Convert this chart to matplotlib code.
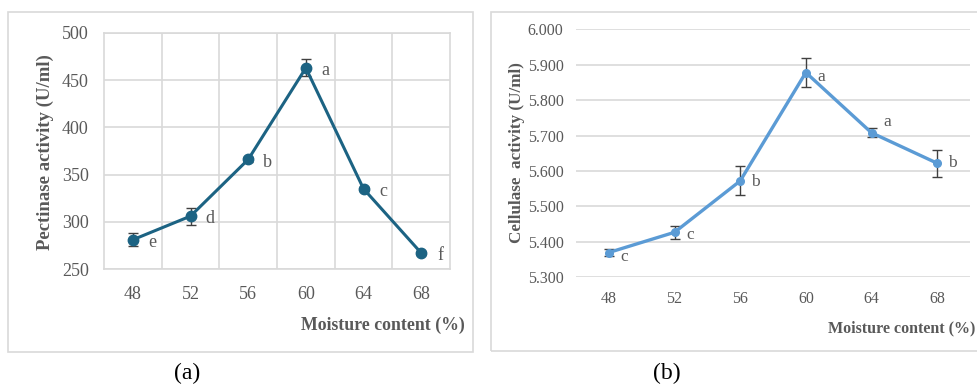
import matplotlib
matplotlib.use("Agg")
import matplotlib.pyplot as plt
from matplotlib.patches import Rectangle
from matplotlib.ticker import MultipleLocator, FixedLocator

plt.rcParams['font.family'] = ['Liberation Serif', 'DejaVu Serif']

moisture = ["48", "52", "56", "60", "64", "68"]

pectinase = [281, 306, 366, 463, 335, 267]
pectinase_err = [7, 9, 3, 9, 2, 2]
pectinase_letters = ["e", "d", "b", "a", "c", "f"]

cellulase = [5.370, 5.427, 5.572, 5.878, 5.708, 5.622]
cellulase_err = [0.010, 0.019, 0.041, 0.042, 0.013, 0.038]
cellulase_letters = ["c", "c", "b", "a", "a", "b"]

W, H = 977, 385
fig = plt.figure(figsize=(W / 100, H / 100), dpi=100)
fig.patch.set_facecolor("white")

TXT = "#595959"
GRID = "#D9D9D9"


def fx(px):
    return px / W


def fy(py):
    return (H - py) / H


# Panel borders
fig.patches.append(Rectangle((fx(8), fy(352)), fx(473) - fx(8), fy(12) - fy(352),
                             transform=fig.transFigure, fill=False, edgecolor=GRID, lw=1.2))
fig.patches.append(Rectangle((fx(491), fy(351)), fx(1000) - fx(491), fy(12) - fy(351),
                             transform=fig.transFigure, fill=False, edgecolor=GRID, lw=1.2))

x = list(range(len(moisture)))

# ---------- Panel (a) ----------
axa = fig.add_axes([fx(104), fy(269), fx(450) - fx(104), fy(33) - fy(269)])
axa.set_xlim(-0.5, 5.5)
axa.set_ylim(250, 500)
axa.yaxis.set_major_locator(MultipleLocator(50))
axa.set_xticks(x)
axa.set_xticklabels(moisture)
axa.xaxis.set_minor_locator(FixedLocator([0.5, 1.5, 2.5, 3.5, 4.5]))
axa.grid(axis="y", which="major", color=GRID, lw=1.2)
axa.grid(axis="x", which="minor", color=GRID, lw=1.2)
axa.set_axisbelow(True)
for s in axa.spines.values():
    s.set_color(GRID)
    s.set_linewidth(1.2)
axa.tick_params(axis="both", which="both", length=0, colors=TXT, labelsize=13)
axa.tick_params(axis="y", pad=11)
axa.tick_params(axis="x", pad=12)
axa.errorbar(x, pectinase, yerr=pectinase_err, color="#1C6383", lw=2.2,
             marker="o", ms=7.5, ecolor="#404040", elinewidth=1.0, capsize=3.5,
             capthick=1.0, zorder=3)
for xi, yi, lab in zip(x, pectinase, pectinase_letters):
    axa.annotate(lab, (xi, yi), xytext=(14, -2), textcoords="offset points",
                 ha="center", va="center", fontsize=13, color=TXT)

fig.text(fx(45), fy(152), "Pectinase activity (U/ml)", rotation=90, ha="center",
         va="center", fontsize=13.5, fontweight="bold", color=TXT)
fig.text(fx(465), fy(325), "Moisture content (%)", ha="right", va="center",
         fontsize=12.8, fontweight="bold", color=TXT)
fig.text(fx(187), fy(373), "(a)", ha="center", va="center", fontsize=17, color="black")

# ---------- Panel (b) ----------
axb = fig.add_axes([fx(576), fy(277.3), fx(970) - fx(576), fy(29.3) - fy(277.3)])
axb.set_xlim(-0.5, 5.5)
axb.set_ylim(5.3, 6.0)
axb.yaxis.set_major_locator(MultipleLocator(0.1))
axb.yaxis.set_major_formatter(matplotlib.ticker.FormatStrFormatter("%.3f"))
axb.set_xticks(x)
axb.set_xticklabels(moisture)
axb.grid(axis="y", which="major", color=GRID, lw=1.2)
axb.set_axisbelow(True)
for s in axb.spines.values():
    s.set_visible(False)
axb.tick_params(axis="both", which="both", length=0, colors=TXT, labelsize=11.5)
axb.tick_params(axis="y", pad=9)
axb.tick_params(axis="x", pad=10)
axb.errorbar(x, cellulase, yerr=cellulase_err, color="#5B9BD5", lw=2.4,
             marker="o", ms=5.5, ecolor="#404040", elinewidth=1.0, capsize=3.5,
             capthick=1.0, zorder=3)
offsets_b = [(11, -3), (11, -2), (11, -1), (11, -3), (11, 8), (11, 0)]
for xi, yi, lab, off in zip(x, cellulase, cellulase_letters, offsets_b):
    axb.annotate(lab, (xi, yi), xytext=off, textcoords="offset points",
                 ha="center", va="center", fontsize=12.5, color=TXT)

fig.text(fx(517), fy(153), "Cellulase  activity (U/ml)", rotation=90, ha="center",
         va="center", fontsize=12.3, fontweight="bold", color=TXT)
fig.text(fx(975), fy(328), "Moisture content (%)", ha="right", va="center",
         fontsize=11.5, fontweight="bold", color=TXT)
fig.text(fx(667), fy(373), "(b)", ha="center", va="center", fontsize=17, color="black")

fig.savefig("out.png", dpi=100)
